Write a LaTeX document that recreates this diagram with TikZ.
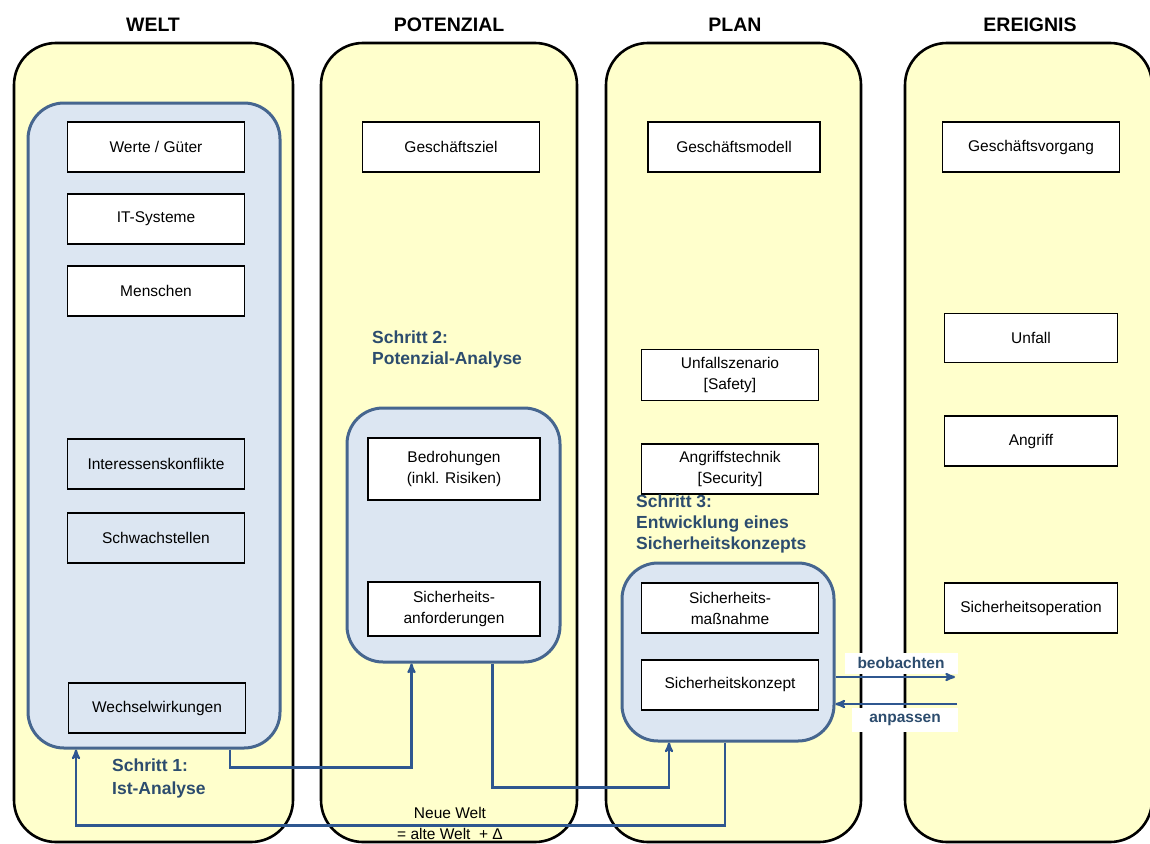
\documentclass[tikz,border=0pt]{standalone}
\usepackage{fontspec}
\setmainfont{Liberation Sans}
\usepackage{tikz}
\usetikzlibrary{arrows,positioning}

\definecolor{weltgelb}{HTML}{FFFFCC}
\definecolor{analyseblau}{HTML}{DCE6F2}
\definecolor{randblau}{HTML}{46668F}
\definecolor{pfeilblau}{HTML}{2F5790}
\definecolor{schrittblau}{HTML}{2C4C6E}

\begin{document}
\begin{tikzpicture}[x=1pt, y=-1pt, >=stealth',
    font=\fontsize{15.5}{21}\selectfont, align=center,
    spalte/.style={rectangle, draw=black, line width=2.6pt, fill=weltgelb,
      rounded corners=42pt, inner sep=0pt},
    phase/.style={rectangle, draw=randblau, line width=3pt, fill=analyseblau,
      rounded corners=36pt, inner sep=0pt},
    objekt/.style={rectangle, draw=black, line width=1.9pt, fill=white,
      minimum width=177pt, minimum height=50pt, inner sep=2pt},
    leer/.style={objekt, fill=none},
    titel/.style={font=\fontsize{19.5}{22}\selectfont\bfseries},
    schritt/.style={font=\fontsize{17.5}{21}\selectfont\bfseries, text=schrittblau,
      align=left, anchor=north west, inner sep=0pt},
    aktion/.style={font=\fontsize{15.5}{18}\selectfont\bfseries, text=schrittblau,
      fill=white, inner sep=0pt, minimum height=21pt},
    fluss/.style={->, draw=pfeilblau, line width=2.2pt}
    ]

    \useasboundingbox (0,0) rectangle (1150,843);

    % Spalten
    \node[spalte, minimum width=279pt, minimum height=799pt] (welt)      at (153.5,442.5) {};
    \node[spalte, minimum width=256pt, minimum height=799pt] (potenzial) at (449,442.5)   {};
    \node[spalte, minimum width=255pt, minimum height=799pt] (plan)      at (733.5,442.5) {};
    \node[spalte, minimum width=247pt, minimum height=799pt] (ereignis)  at (1028.5,442.5) {};

    \node[titel] (weltT)      at (153,25)  {WELT};
    \node[titel] (potenzialT) at (449,25)  {POTENZIAL};
    \node[titel] (planT)      at (735,25)  {PLAN};
    \node[titel] (ereignisT)  at (1030,25) {EREIGNIS};

    % Analysebereiche
    \node[phase, minimum width=252pt, minimum height=645pt] (ist)    at (154,425.5) {};
    \node[phase, minimum width=213pt, minimum height=254pt] (potana) at (453.5,535)  {};
    \node[phase, minimum width=212pt, minimum height=178pt] (sphase) at (728,652)    {};

    % WELT
    \node[objekt] (werte)     at (156,147)          {Werte / Güter};
    \node[objekt] (itsys)     [below=20pt of werte] {IT-Systeme};
    \node[objekt] (menschen)  [below=20pt of itsys] {Menschen};
    \node[leer]   (konflikte) at (156,464)          {Interessenskonflikte};
    \node[leer]   (schwach)   [below=22pt of konflikte] {Schwachstellen};
    \node[leer]   (wechsel)   at (157,708)          {Wechselwirkungen};

    % POTENZIAL
    \node[objekt] (ziel)        at (451,147) {Geschäftsziel};
    \node[objekt, minimum width=172pt, minimum height=62pt] (bedrohung)   at (454,469) {Bedrohungen\\(inkl. Risiken)};
    \node[objekt, minimum width=172pt, minimum height=54pt] (anforderung) at (454,609) {Sicherheits-\\anforderungen};

    % PLAN
    \node[objekt, minimum width=172pt] (modell) at (734,147) {Geschäftsmodell};
    \node[objekt, minimum height=51pt] (szenario)  at (730,375) {Unfallszenario\\{[Safety]}};
    \node[objekt]                      (technik)   at (730,469) {Angriffstechnik\\{[Security]}};
    \node[objekt]                      (massnahme) at (730,608) {Sicherheits-\\maßnahme};
    \node[objekt]                      (skonzept)  [below=25pt of massnahme] {Sicherheitskonzept};

    % EREIGNIS
    \node[objekt]                      (vorgang)   at (1031,147) {Geschäftsvorgang};
    \node[objekt, minimum width=173pt, minimum height=49pt] (unfall) at (1031,338) {Unfall};
    \node[objekt, minimum width=173pt] (angriff)   at (1031,441) {Angriff};
    \node[objekt, minimum width=173pt] (operation) at (1031,608) {Sicherheitsoperation};

    % Schritte
    \node[schritt, font=\fontsize{17.5}{23}\selectfont\bfseries] (schritt1) at (112,759) {Schritt 1:\\Ist-Analyse};
    \node[schritt] (schritt2) at (372,331) {Schritt 2:\\Potenzial-Analyse};
    \node[schritt] (schritt3) at (636,495) {Schritt 3:\\Entwicklung eines\\Sicherheitskonzepts};

    % Ablauf
    \draw[fluss] ([xshift=76pt]ist.south) -- ++(0,18) -| ([xshift=-42pt]potana.south);
    \draw[fluss] ([xshift=39pt]potana.south) -- ++(0,124) -| ([xshift=-59pt]sphase.south);
    \draw[fluss] ([xshift=-3pt]sphase.south) -- ++(0,83) -| ([xshift=-78pt]ist.south);
    \node (neuewelt) at (450,823) {Neue Welt\\= alte Welt \ + Δ};

    % Rueckkopplung
    \node[aktion, minimum width=113pt] (beobachten) at (901,663) {beobachten};
    \node[aktion, minimum width=106pt, minimum height=24pt] (anpassen) at (905,720) {anpassen};
    \coordinate (beobEnde) at (955,677);
    \coordinate (anpStart) at (957,704);
    \draw[fluss] ([yshift=-25pt]sphase.east) -- (beobEnde);
    \draw[fluss] (anpStart) -- ([yshift=-52pt]sphase.east);
\end{tikzpicture}
\end{document}
